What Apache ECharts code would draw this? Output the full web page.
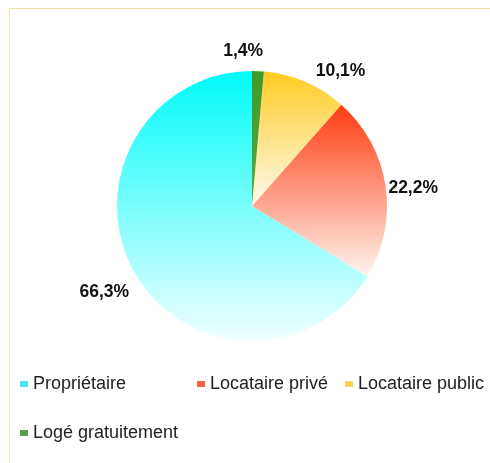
<!DOCTYPE html>
<html>
<head>
<meta charset="utf-8">
<script src="https://cdn.jsdelivr.net/npm/echarts@6/dist/echarts.min.js"></script>
<style>
html,body{margin:0;padding:0;background:#fff;}
#chart{width:490px;height:463px;}
</style>
</head>
<body>
<div id="chart"></div>
<script>
const categories = ['Propriétaire', 'Locataire privé', 'Locataire public', 'Logé gratuitement'];
const values = [66.3, 22.2, 10.1, 1.4];

// styles (not data)
const topColors = ['#00fbfb', '#ff3c10', '#ffcc22', '#3f9a2a'];
const bottomColors = ['#f2ffff', '#fff4ef', '#fffaf0', '#5aa83a'];
const legendColors = ['#45e3f0', '#f5643c', '#f8d85a', '#5c9a4c'];
const labelNudge = [[5, 17], [-3, 3], [-14, -17], [-40, -14]];
const legendSlots = [[20, 375], [197, 375], [345, 375], [20, 424]];

const chart = echarts.init(document.getElementById('chart'));
const fmt = v => v.toFixed(1).replace('.', ',') + '%';

const data = categories.map((name, i) => ({
  name: name,
  value: values[i],
  label: { offset: labelNudge[i] },
  itemStyle: {
    color: new echarts.graphic.LinearGradient(0, 0, 0, 1, [
      { offset: 0, color: topColors[i] },
      { offset: 1, color: bottomColors[i] }
    ])
  }
}));

const legendText = { fontFamily: 'Liberation Sans, Arial, sans-serif', fontSize: 18, color: '#222' };

chart.setOption({
  animation: false,
  backgroundColor: '#fff',
  graphic: [
    { type: 'line', shape: { x1: 9, y1: 8.5, x2: 490, y2: 8.5 }, style: { stroke: '#f3e2a8', lineWidth: 1 } },
    { type: 'line', shape: { x1: 9.5, y1: 8, x2: 9.5, y2: 463 }, style: { stroke: '#f3e2a8', lineWidth: 1 } }
  ],
  legend: categories.map((name, i) => ({
    left: legendSlots[i][0], top: legendSlots[i][1],
    padding: 0,
    itemWidth: 8, itemHeight: 6,
    icon: 'rect',
    textStyle: legendText,
    data: [{ name: name, itemStyle: { color: legendColors[i] } }],
    selectedMode: false
  })),
  series: [{
    type: 'pie',
    center: [252, 206],
    radius: 135,
    startAngle: 90,
    clockwise: false,
    data: data,
    label: {
      show: true,
      position: 'outside',
      formatter: p => fmt(p.value),
      fontFamily: 'Liberation Sans, Arial, sans-serif',
      fontWeight: 'bold',
      fontSize: 17.5,
      color: '#111'
    },
    labelLine: { show: false, length: 6, length2: 0 },
    emphasis: { disabled: true }
  }]
});
</script>
</body>
</html>
